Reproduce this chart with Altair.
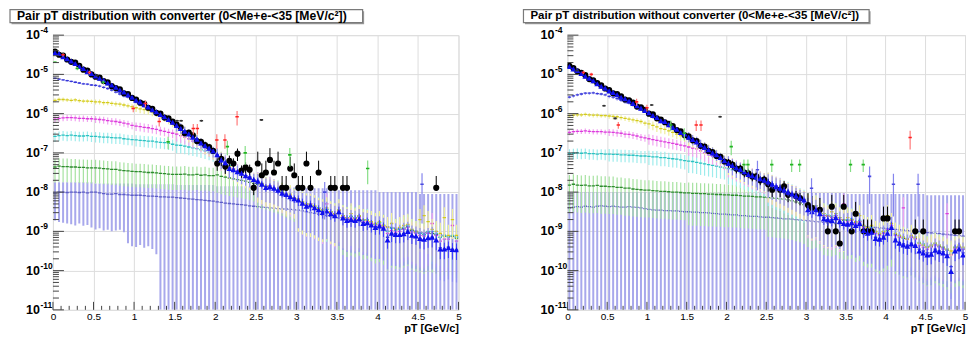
import altair as alt
import pandas as pd

# ---------------- binning / axes ----------------
PT_MIN, PT_MAX = 0.0, 5.0
BIN_W = 0.05
HALF = 0.021
Y_MIN, Y_MAX = 1e-11, 1e-4
X_LABELS = [0, 0.5, 1, 1.5, 2, 2.5, 3, 3.5, 4, 4.5, 5]
DECADES = [-4, -5, -6, -7, -8, -9, -10, -11]

TITLE_L = "Pair pT distribution with converter (0<Me+e-<35 [MeV/c²])"
TITLE_R = "Pair pT distribution without converter (0<Me+e-<35 [MeV/c²])"
AXIS_TITLE = "pT [GeV/c]"

# ================= LEFT PANEL (with converter): log10 of bin contents =================
L_blue = [-4.45,-4.47,-4.55,-4.60,-4.66,-4.72,-4.80,-4.85,-4.93,-4.98,
          -5.04,-5.10,-5.15,-5.22,-5.27,-5.33,-5.40,-5.45,-5.52,-5.58,
          -5.66,-5.70,-5.77,-5.83,-5.90,-5.95,-6.02,-6.08,-6.15,-6.22,
          -6.30,-6.38,-6.45,-6.52,-6.60,-6.65,-6.75,-6.82,-6.88,-6.95,
          -7.05,-7.18,-7.25,-7.40,-7.43,-7.48,-7.52,-7.58,-7.62,-7.68,
          -7.72,-7.80,-7.88,-7.86,-7.90,-7.95,-8.03,-8.06,-8.12,-8.17,
          -8.20,-8.28,-8.36,-8.33,-8.40,-8.45,-8.52,-8.48,-8.55,-8.60,
          -8.50,-8.66,-8.72,-8.70,-8.72,-8.68,-8.80,-8.78,-8.84,-8.90,
          -8.86,-8.92,-9.22,-9.05,-9.08,-9.08,-9.06,-9.00,-9.10,-9.12,
          -9.18,-9.20,-9.16,-9.15,-9.22,-9.45,-9.45,-9.42,-9.46,-9.47]
L_black = [-4.42,-4.50,-4.52,-4.62,-4.68,-4.70,-4.78,-4.88,-4.90,-5.00,
           -5.06,-5.08,-5.17,-5.20,-5.30,-5.35,-5.38,-5.48,-5.50,-5.60,
           -5.64,-5.72,-5.75,-5.85,-5.88,-5.98,-6.00,-6.10,-6.12,-6.20,
           -6.28,-6.35,-6.50,-6.48,-6.55,-6.70,-6.72,-6.80,-6.85,-6.95,
           -7.27,-7.15,-7.35,-7.20,-7.27,-7.02,-7.45,-7.37,-7.43,-7.89,
           -7.27,-7.57,-7.50,-7.18,-7.50,-7.27,-7.89,-7.89,-7.40,-7.57,
           -7.89,-7.89,-7.27,-7.89,None,-7.50,None,None,-7.89,-7.89,
           None,-7.89,-7.89,None,None,None,None,None,None,None,
           None,None,None,None,None,None,None,None,None,None,
           None,None,None,None,-7.89,None,None,None,None,None]
L_blue2 = [-5.10,-5.12,-5.14,-5.16,-5.18,-5.20,-5.22,-5.24,-5.25,-5.27,
           -5.28,-5.30,-5.33,-5.36,-5.40,-5.45,-5.50,-5.55,-5.58,-5.62,
           -5.68,-5.72,-5.78,-5.84,-5.90,-5.96,-6.02,-6.08,-6.15,-6.22,
           -6.30,-6.36,-6.45,-6.52,-6.58,-6.66,-6.74,-6.82,-6.88,-6.96,
           -7.05,-7.16,-7.26,-7.38,-7.44,-7.48,-7.54,-7.58,-7.62,-7.70,
           -7.74,-7.80,-7.86,-7.88,-7.92,-7.96,-8.02,-8.08,-8.12,-8.16,
           -8.22,-8.28,-8.34,-8.35,-8.40,-8.46,-8.50,-8.50,-8.56,-8.60,
           -8.55,-8.65,-8.70,-8.72,-8.74,-8.70,-8.78,-8.80,-8.85,-8.88,
           -8.88,-8.92,-9.15,-9.05,-9.06,-9.10,-9.05,-9.02,-9.12,-9.14,
           -9.18,-9.22,-9.18,-9.15,-9.25,-9.42,-9.45,-9.40,-9.46,-9.48]
L_yellow = [-5.66,-5.64,-5.64,-5.65,-5.66,-5.65,-5.67,-5.68,-5.68,-5.69,
            -5.70,-5.70,-5.72,-5.72,-5.74,-5.75,-5.76,-5.78,-5.80,-5.82,
            -5.85,-5.88,-5.90,-5.92,-5.96,-5.98,-6.04,-6.10,-6.16,-6.24,
            -6.30,-6.40,-6.46,-6.55,-6.62,-6.66,-6.76,-6.85,-6.90,-6.98,
            -7.08,-7.15,-7.28,-7.35,-7.42,-7.50,-7.55,-7.60,-7.66,-7.70,
            -7.75,-7.78,-7.85,-7.90,-7.92,-7.98,-8.00,-8.10,-8.05,-8.15,
            -8.18,-8.25,-8.30,-8.32,-8.35,-8.42,-8.45,-8.40,-8.50,-8.55,
            -8.45,-8.60,-8.65,-8.55,-8.68,-8.60,-8.70,-8.72,-8.75,-8.80,
            -8.75,-8.85,-8.90,-8.80,-8.95,-8.90,-8.85,-8.82,-8.95,-9.00,
            -8.70,-8.60,-8.75,-8.95,-9.00,-9.05,-8.65,-9.10,-8.70,-9.10]
L_magenta = [-6.14,-6.12,-6.11,-6.10,-6.10,-6.11,-6.12,-6.12,-6.13,-6.13,
             -6.14,-6.15,-6.16,-6.18,-6.19,-6.20,-6.22,-6.24,-6.26,-6.30,
             -6.32,-6.33,-6.35,-6.36,-6.38,-6.40,-6.43,-6.45,-6.48,-6.50,
             -6.52,-6.56,-6.60,-6.64,-6.70,-6.74,-6.80,-6.86,-6.92,-6.98,
             -7.06,-7.16,-7.24,-7.36,-7.40,-7.46,-7.52,-7.58,-7.62,-7.68,
             -7.72,-7.80,-7.86,-7.84,-7.90,-7.96,-8.02,-8.05,-8.10,-8.15,
             -8.18,-8.26,-8.32,-8.30,-8.38,-8.42,-8.50,-8.30,-8.52,-8.58,
             -8.48,-8.62,-8.68,-8.66,-8.70,-8.64,-8.76,-8.74,-8.80,-8.86,
             -8.82,-8.88,-9.05,-8.98,-9.02,-9.00,-8.95,-8.90,-9.02,-9.05,
             -9.10,-9.12,-9.05,-8.80,-9.10,-9.25,-9.20,-9.20,-8.85,-9.25]
L_cyan = [-6.58,-6.56,-6.55,-6.56,-6.55,-6.56,-6.57,-6.57,-6.56,-6.58,
          -6.58,-6.59,-6.60,-6.60,-6.61,-6.62,-6.62,-6.64,-6.65,-6.66,
          -6.67,-6.68,-6.69,-6.70,-6.70,-6.72,-6.73,-6.74,-6.76,-6.78,
          -6.80,-6.81,-6.83,-6.85,-6.87,-6.89,-6.92,-6.95,-6.98,-7.02,
          -7.08,-7.15,-7.22,-7.32,-7.40,-7.46,-7.52,-7.58,-7.62,-7.68,
          -7.72,-7.78,-7.86,-7.84,-7.90,-7.94,-8.00,-8.04,-8.10,-8.14,
          -8.18,-8.24,-8.30,-8.30,-8.36,-8.40,-8.46,-8.44,-8.50,-8.55,
          -8.45,-8.60,-8.65,-8.62,-8.66,-8.60,-8.72,-8.70,-8.76,-8.82,
          -8.78,-8.85,-9.00,-8.92,-8.96,-8.95,-8.90,-8.85,-8.95,-9.00,
          -9.05,-9.08,-9.00,-9.00,-9.05,-9.15,-9.10,-9.12,-9.10,-9.15]
L_green = [-7.36,-7.34,-7.35,-7.35,-7.36,-7.36,-7.37,-7.37,-7.38,-7.38,
           -7.38,-7.39,-7.40,-7.41,-7.42,-7.42,-7.44,-7.45,-7.46,-7.47,
           -7.48,-7.48,-7.49,-7.50,-7.50,-7.51,-7.52,-7.53,-7.54,-7.55,
           -7.55,-7.55,-7.54,-7.56,-7.56,-7.55,-7.57,-7.56,-7.58,-7.58,
           -7.56,-7.60,-7.62,-7.64,-7.66,-7.68,-7.70,-7.72,-7.75,-7.78,
           -7.80,-7.82,-7.85,-7.88,-7.92,-7.95,-8.00,-8.05,-8.10,-8.15,
           -8.18,-8.25,-8.30,-8.30,-8.36,-8.40,-8.46,-8.44,-8.50,-8.55,
           -8.48,-8.60,-8.65,-8.62,-8.66,-8.62,-8.72,-8.70,-8.76,-8.82,
           -8.78,-8.85,-9.00,-8.92,-8.96,-8.95,-8.92,-8.88,-8.98,-9.02,
           -9.05,-9.08,-9.02,-9.05,-9.08,-9.15,-9.12,-9.14,-9.12,-9.18]
L_purple = [-8.02,-8.00,-8.00,-8.01,-8.00,-8.00,-8.01,-8.00,-8.02,-8.00,
            -8.00,-8.02,-8.04,-8.05,-8.05,-8.04,-8.06,-8.06,-8.07,-8.08,
            -8.08,-8.08,-8.09,-8.10,-8.10,-8.11,-8.12,-8.12,-8.13,-8.13,
            -8.14,-8.15,-8.16,-8.17,-8.18,-8.19,-8.20,-8.21,-8.22,-8.23,
            -8.25,-8.26,-8.28,-8.29,-8.30,-8.31,-8.32,-8.33,-8.35,-8.36,
            -8.37,-8.38,-8.39,-8.40,-8.41,-8.42,-8.43,-8.43,-8.44,-8.45,
            -8.46,-8.48,-8.50,-8.52,-8.54,-8.56,-8.58,-8.60,-8.62,-8.64,
            -8.65,-8.67,-8.69,-8.71,-8.73,-8.75,-8.77,-8.79,-8.81,-8.83,
            -8.85,-8.86,-8.88,-8.90,-8.92,-8.93,-8.95,-8.97,-8.98,-9.00,
            -9.02,-9.03,-9.05,-9.06,-9.08,-9.09,-9.10,-9.12,-9.13,-9.15]
L_purple_top = [-7.75,-7.78,-7.80,-7.82,-7.85,-7.88,-7.90,-7.95,-8.00,-8.05]   # per 0.5 GeV
L_purple_low = [-8.72,-8.76,-8.78,-8.80,-8.82,-8.85,-8.80,-8.86,-8.84,-8.90,
                -8.95,-8.92,-8.98,-8.96,-9.00,-8.98,-8.96,-9.02,-9.30,-9.38,
                -9.40,-9.35,-9.42,-9.38,-9.45,-9.58]   # further bins reach the floor
L_rel = {"blue": [0.04,0.05,0.07,0.10,0.15,0.22,0.30,0.35,0.40,0.45],
         "black": [0.05,0.06,0.08,0.12,0.35,1.0,1.0,1.0,1.0,1.0],
         "blue2": [0.06,0.08,0.15,0.30,0.45,0.60,0.80,0.85,0.85,0.85],
         "yellow": [0.12,0.14,0.22,0.35,0.50,0.70,0.85,0.85,0.85,0.85],
         "magenta": [0.18,0.20,0.25,0.35,0.50,0.70,0.85,0.85,0.85,0.85],
         "cyan": [0.28,0.30,0.32,0.38,0.50,0.70,0.85,0.85,0.85,0.85],
         "green": [0.60,0.60,0.60,0.60,0.65,0.75,0.85,0.90,0.90,0.90]}
# isolated points (pT, log10 value, relative error)
L_red = [(0.125,-4.50,0.1),(0.45,-4.95,0.1),(0.99,-5.87,0.2),(1.14,-5.74,0.2),(1.31,-6.20,0.25),
         (1.73,-6.38,0.3),(1.78,-6.38,0.3),(2.02,-6.67,0.4),(2.12,-6.67,0.4),(2.27,-6.08,0.4)]
L_gray = [(0.54,-5.03,0.06),(1.53,-6.18,0.06),(1.58,-6.18,0.06),(1.83,-6.18,0.06),(2.57,-6.16,0.06)]
L_grn = [(0.025,-4.69,0.05),(0.30,-4.85,0.1),(0.62,-5.20,0.1),(1.42,-6.72,0.35),(2.15,-6.84,0.4),
         (2.37,-7.00,0.5),(2.92,-7.05,0.5),(3.88,-7.40,0.6)]
L_bl = [(3.35,-8.00,0.8),(4.55,-7.80,0.9)]

# ================= RIGHT PANEL (without converter) =================
R_blue = [-4.80,-4.86,-4.90,-4.98,-5.05,-5.10,-5.16,-5.24,-5.30,-5.35,
          -5.42,-5.46,-5.52,-5.58,-5.62,-5.68,-5.74,-5.80,-5.86,-5.92,
          -5.98,-6.05,-6.10,-6.18,-6.20,-6.28,-6.35,-6.40,-6.48,-6.52,
          -6.60,-6.66,-6.72,-6.80,-6.86,-6.92,-7.00,-7.05,-7.12,-7.20,
          -7.27,-7.32,-7.38,-7.42,-7.48,-7.55,-7.58,-7.62,-7.66,-7.70,
          -7.74,-7.80,-7.86,-7.90,-7.95,-8.00,-8.05,-8.10,-8.15,-8.20,
          -8.45,-8.50,-8.45,-8.55,-8.68,-8.70,-8.72,-8.65,-8.75,-8.80,
          -8.82,-8.78,-8.85,-8.80,-8.98,-9.05,-9.02,-9.18,-9.20,-9.15,
          -9.05,-8.90,-9.22,-9.30,-9.35,-9.38,-9.32,-9.36,-9.50,-9.55,
          -9.60,-9.58,-9.48,-9.52,-9.55,-9.62,-10.02,-9.50,-9.45,-9.60]
R_black = [-4.78,-4.84,-4.92,-4.96,-5.02,-5.12,-5.15,-5.22,-5.28,-5.36,
           -5.40,-5.48,-5.50,-5.56,-5.64,-5.66,-5.72,-5.82,-5.84,-5.90,
           -6.00,-6.02,-6.12,-6.15,-6.22,-6.26,-6.32,-6.42,-6.45,-6.55,
           -6.58,-6.68,-6.70,-6.82,-6.84,-6.95,-6.98,-7.08,-7.10,-7.22,
           -7.25,-7.30,-7.40,-7.40,-7.50,-7.52,-7.60,-7.60,-7.70,-7.68,
           -7.80,-7.94,None,-7.94,-7.85,-8.07,None,-8.10,-8.15,None,
           -8.33,-8.40,None,-8.45,None,-9.00,-8.37,-9.00,-9.31,-8.37,
           None,-9.00,-8.55,None,-9.00,-9.00,-9.00,None,None,-8.67,
           -8.67,None,None,None,None,None,None,-9.00,None,-9.00,
           None,None,None,None,None,None,None,-9.00,-9.00,None]
R_blue2 = [-5.58,-5.55,-5.52,-5.50,-5.48,-5.48,-5.47,-5.49,-5.50,-5.52,
           -5.56,-5.58,-5.62,-5.66,-5.70,-5.72,-5.78,-5.84,-5.88,-5.94,
           -6.00,-6.06,-6.12,-6.18,-6.22,-6.28,-6.34,-6.40,-6.46,-6.52,
           -6.58,-6.66,-6.70,-6.78,-6.85,-6.92,-6.98,-7.05,-7.12,-7.20,
           -7.25,-7.32,-7.38,-7.42,-7.48,-7.55,-7.58,-7.62,-7.66,-7.72,
           -7.75,-7.80,-7.85,-7.90,-7.95,-8.00,-8.05,-8.10,-8.15,-8.20,
           -8.40,-8.48,-8.45,-8.55,-8.65,-8.70,-8.70,-8.65,-8.75,-8.80,
           -8.80,-8.78,-8.85,-8.80,-8.95,-9.00,-9.00,-9.15,-9.18,-9.12,
           -9.05,-8.90,-9.20,-9.28,-9.32,-9.35,-9.30,-9.35,-9.45,-9.50,
           -9.55,-9.55,-9.45,-9.50,-9.52,-9.60,-9.90,-9.50,-9.45,-9.55]
R_yellow = [-6.05,-6.04,-6.03,-6.03,-6.02,-6.03,-6.04,-6.04,-6.05,-6.05,
            -6.06,-6.07,-6.08,-6.10,-6.12,-6.14,-6.16,-6.18,-6.20,-6.24,
            -6.26,-6.30,-6.34,-6.38,-6.40,-6.44,-6.48,-6.52,-6.56,-6.60,
            -6.64,-6.68,-6.74,-6.80,-6.86,-6.92,-6.98,-7.05,-7.12,-7.20,
            -7.26,-7.32,-7.38,-7.44,-7.48,-7.52,-7.58,-7.62,-7.66,-7.70,
            -7.74,-7.80,-7.86,-7.90,-7.95,-8.00,-8.05,-8.10,-8.15,-8.20,
            -8.30,-8.40,-8.35,-8.45,-8.55,-8.60,-8.50,-8.55,-8.65,-8.70,
            -8.65,-8.70,-8.75,-8.60,-8.85,-8.90,-8.85,-9.00,-9.05,-9.00,
            -8.60,-8.80,-9.05,-9.10,-9.15,-9.20,-9.10,-9.15,-9.30,-9.35,
            -9.40,-9.35,-9.30,-9.35,-9.40,-9.45,-9.50,-9.40,-9.35,-9.40]
R_magenta = [-6.48,-6.46,-6.45,-6.45,-6.44,-6.45,-6.46,-6.46,-6.46,-6.47,
             -6.47,-6.48,-6.49,-6.50,-6.52,-6.53,-6.55,-6.57,-6.60,-6.62,
             -6.64,-6.66,-6.68,-6.70,-6.72,-6.74,-6.76,-6.78,-6.80,-6.82,
             -6.85,-6.88,-6.90,-6.95,-7.00,-7.05,-7.08,-7.12,-7.16,-7.22,
             -7.28,-7.32,-7.38,-7.42,-7.48,-7.52,-7.58,-7.62,-7.66,-7.70,
             -7.74,-7.80,-7.84,-7.88,-7.94,-8.00,-8.05,-8.08,-8.15,-8.20,
             -8.35,-8.42,-8.40,-8.50,-8.60,-8.62,-8.65,-8.60,-8.70,-8.30,
             -8.75,-8.72,-8.80,-8.75,-8.90,-8.95,-8.95,-9.05,-9.10,-9.05,
             -8.95,-8.85,-9.10,-9.15,-8.40,-9.20,-9.15,-9.20,-9.35,-9.40,
             -9.45,-9.40,-9.35,-9.40,-9.45,-8.55,-9.60,-9.45,-9.40,-9.45]
R_cyan = [-7.02,-7.01,-7.00,-7.01,-7.00,-7.02,-7.02,-7.03,-7.02,-7.03,
          -7.03,-7.04,-7.04,-7.05,-7.05,-7.06,-7.06,-7.07,-7.08,-7.08,
          -7.09,-7.10,-7.10,-7.12,-7.12,-7.14,-7.15,-7.16,-7.18,-7.20,
          -7.21,-7.22,-7.24,-7.26,-7.28,-7.30,-7.32,-7.34,-7.36,-7.38,
          -7.40,-7.43,-7.46,-7.50,-7.54,-7.58,-7.62,-7.64,-7.68,-7.72,
          -7.75,-7.80,-7.85,-7.88,-7.94,-7.98,-8.04,-8.08,-8.14,-8.18,
          -8.30,-8.38,-8.35,-8.45,-8.55,-8.58,-8.60,-8.55,-8.65,-8.70,
          -8.70,-8.68,-8.75,-8.72,-8.85,-8.90,-8.90,-9.00,-9.05,-9.00,
          -8.95,-8.85,-9.05,-9.10,-9.15,-9.18,-9.12,-9.15,-9.28,-9.32,
          -9.38,-9.35,-9.30,-9.35,-9.40,-9.45,-9.55,-9.40,-9.38,-9.42]
R_green = [-7.82,-7.80,-7.82,-7.83,-7.82,-7.84,-7.84,-7.83,-7.85,-7.85,
           -7.86,-7.86,-7.88,-7.88,-7.90,-7.90,-7.92,-7.93,-7.94,-7.95,
           -7.95,-7.96,-7.97,-7.98,-7.98,-7.99,-8.00,-8.00,-8.01,-8.02,
           -8.02,-8.03,-8.03,-8.04,-8.04,-8.05,-8.05,-8.06,-8.06,-8.07,
           -8.07,-8.08,-8.08,-8.09,-8.10,-8.10,-8.11,-8.12,-8.12,-8.13,
           -8.14,-8.15,-8.16,-8.17,-8.18,-8.20,-8.22,-8.25,-8.28,-8.32,
           -8.40,-8.45,-8.42,-8.50,-8.60,-8.62,-8.64,-8.60,-8.70,-8.72,
           -8.72,-8.70,-8.78,-8.75,-8.88,-8.92,-8.92,-9.02,-9.08,-9.02,
           -8.98,-8.90,-9.08,-9.12,-9.18,-9.20,-9.14,-9.18,-9.30,-9.35,
           -9.40,-9.38,-9.32,-9.38,-9.42,-9.48,-9.58,-9.42,-9.40,-9.45]
R_purple = [-8.40,-8.38,-8.37,-8.38,-8.36,-8.37,-8.38,-8.36,-8.35,-8.36,
            -8.37,-8.36,-8.37,-8.38,-8.38,-8.37,-8.38,-8.39,-8.40,-8.42,
            -8.44,-8.45,-8.46,-8.46,-8.47,-8.47,-8.48,-8.48,-8.49,-8.50,
            -8.50,-8.51,-8.51,-8.52,-8.52,-8.53,-8.54,-8.55,-8.56,-8.56,
            -8.57,-8.58,-8.58,-8.60,-8.60,-8.61,-8.62,-8.62,-8.63,-8.64,
            -8.64,-8.65,-8.66,-8.67,-8.68,-8.68,-8.69,-8.70,-8.71,-8.72,
            -8.73,-8.74,-8.75,-8.76,-8.77,-8.78,-8.79,-8.80,-8.81,-8.82,
            -8.83,-8.84,-8.85,-8.86,-8.87,-8.88,-8.89,-8.90,-8.91,-8.92,
            -8.93,-8.94,-8.95,-8.96,-8.97,-8.98,-8.99,-9.00,-9.01,-9.02,
            -9.03,-9.04,-9.05,-9.06,-9.07,-9.08,-9.09,-9.10,-9.11,-9.12]
R_purple_top = [-8.00,-8.00,-8.00,-8.02,-8.02,-8.00,-8.02,-8.05,-8.05,-8.08]
R_purple_low = []   # every bin reaches the floor
R_rel = {"blue": [0.04,0.05,0.07,0.10,0.15,0.22,0.30,0.35,0.40,0.45],
         "black": [0.05,0.06,0.08,0.12,0.25,0.35,1.0,1.0,1.0,1.0],
         "blue2": [0.08,0.10,0.15,0.30,0.45,0.60,0.80,0.85,0.85,0.85],
         "yellow": [0.12,0.15,0.25,0.35,0.50,0.70,0.85,0.85,0.85,0.85],
         "magenta": [0.15,0.20,0.30,0.40,0.55,0.70,0.85,0.85,0.85,0.85],
         "cyan": [0.30,0.35,0.40,0.50,0.60,0.75,0.85,0.85,0.85,0.85],
         "green": [0.80,0.80,0.80,0.85,0.85,0.90,0.90,0.90,0.90,0.90]}
R_red = [(0.20,-4.95,0.1),(0.30,-5.00,0.1),(0.64,-6.29,0.2),(0.87,-5.70,0.2),(1.00,-5.85,0.2),
         (1.62,-6.29,0.3),(1.68,-6.29,0.3),(4.31,-6.61,0.5)]
R_gray = [(0.12,-4.90,0.06),(0.46,-5.80,0.06),(0.60,-6.12,0.06),(1.06,-5.78,0.06),(1.92,-6.08,0.06)]
R_grn = [(1.30,-6.29,0.3),(1.47,-6.50,0.35),(2.06,-6.84,0.4),(2.22,-7.30,0.35),(2.27,-7.30,0.35),
         (2.57,-7.30,0.35),(2.82,-7.30,0.35),(2.92,-7.30,0.35),(3.56,-7.30,0.35),(3.72,-7.30,0.35)]
R_bl = [(2.39,-7.43,0.7),(3.07,-7.90,0.8),(3.80,-7.60,0.8),(4.10,-7.80,0.85),(4.41,-7.80,0.85)]

# ---------------- styling ----------------
FONT = "Liberation Sans"
SMOOTH_STYLE = {  # name: (error-bar colour, bin-bar colour, bar width)
    "purple": ("#a8a8ec", "#5c5cc6", 2.0),
    "green": ("#a6e2a0", "#2e8b2e", 1.2),
    "cyan": ("#9eecec", "#2cc2c2", 1.2),
    "magenta": ("#f0a4f0", "#dd3bdd", 1.2),
    "yellow": ("#eeee98", "#d4ca1c", 1.2),
    "blue2": ("#9090f2", "#3535d8", 1.2),
}
SPARSE_STYLE = {"red": ("#ff7a7a", "#ff2222"), "grn": ("#86de86", "#22b422"),
                "gray": ("#555555", "#333333"), "bl": ("#8585ee", "#4a4ae0")}

XSC = alt.Scale(domain=[PT_MIN, PT_MAX], nice=False, zero=False)
YSC = alt.Scale(type="log", domain=[Y_MIN, Y_MAX], nice=False)
XAX = alt.Axis(values=X_LABELS, format="~g", title=AXIS_TITLE, grid=True, ticks=False, domain=False,
               labelFlush=False, labelOverlap=False, labelPadding=2, titleAnchor="end",
               titlePadding=1)
YAX = alt.Axis(values=[10.0 ** d for d in DECADES], labels=False, ticks=False, domain=False,
               grid=True, title=None)


def X(f):
    return alt.X(f"{f}:Q", scale=XSC, axis=XAX)


def Y(f):
    return alt.Y(f"{f}:Q", scale=YSC, axis=YAX)


def centre(i):
    return PT_MIN + (i + 0.5) * BIN_W


def hist_df(logs, rel=None, top=None, low=None):
    rows = []
    for i, lv in enumerate(logs):
        if lv is None:
            continue
        c = centre(i)
        v = 10.0 ** lv
        if top is not None:
            hi = 10.0 ** top[i // 10]
            lo = 10.0 ** low[i] if i < len(low) else Y_MIN
        else:
            e = v * rel[i // 10]
            hi = v + e
            lo = v - e if e < v else v
        rows.append({"x": c, "xa": c - HALF, "xb": c + HALF, "v": v,
                     "lo": max(lo, Y_MIN), "hi": min(hi, Y_MAX)})
    return pd.DataFrame(rows)


def sparse_df(pts):
    rows = []
    for x, lv, r in pts:
        v = 10.0 ** lv
        rows.append({"x": x, "xa": x - HALF, "xb": x + HALF, "v": v,
                     "lo": max(v * (1 - r), Y_MIN), "hi": min(v * (1 + r), Y_MAX)})
    return pd.DataFrame(rows)


def cross_layers(df, bar_col, line_col, bar_w=1.2, line_w=1.3):
    vert = alt.Chart(df).mark_rule(color=bar_col, strokeWidth=bar_w, clip=True).encode(
        x=X("x"), y=Y("lo"), y2=alt.Y2("hi:Q"))
    horiz = alt.Chart(df).mark_rule(color=line_col, strokeWidth=line_w, clip=True).encode(
        x=X("xa"), x2=alt.X2("xb:Q"), y=Y("v"))
    return [vert, horiz]


def panel(d, title, width, box_left, box_right, title_size):
    layers = []
    # smooth histograms (drawn back to front)
    for name in ["purple", "green", "cyan", "magenta", "yellow", "blue2"]:
        bc, lc, bw = SMOOTH_STYLE[name]
        if name == "purple":
            df = hist_df(d["purple"], top=d["purple_top"], low=d["purple_low"])
        else:
            df = hist_df(d[name], rel=d["rel"][name])
        layers += cross_layers(df, bc, lc, bar_w=bw)
    # black circles
    bdf = hist_df(d["black"], rel=d["rel"]["black"])
    layers.append(alt.Chart(bdf).mark_rule(color="black", strokeWidth=1, clip=True).encode(
        x=X("x"), y=Y("lo"), y2=alt.Y2("hi:Q")))
    layers.append(alt.Chart(bdf).mark_point(shape="circle", filled=True, size=38, color="black",
                                            opacity=1, clip=True).encode(x=X("x"), y=Y("v")))
    # blue triangles
    tdf = hist_df(d["blue"], rel=d["rel"]["blue"])
    layers.append(alt.Chart(tdf).mark_rule(color="#3a3aff", strokeWidth=1, clip=True).encode(
        x=X("x"), y=Y("lo"), y2=alt.Y2("hi:Q")))
    layers.append(alt.Chart(tdf).mark_point(shape="triangle-up", filled=True, size=34,
                                            color="#1010ee", opacity=1, clip=True).encode(
        x=X("x"), y=Y("v")))
    # isolated points
    for key in ["bl", "grn", "red", "gray"]:
        bc, lc = SPARSE_STYLE[key]
        layers += cross_layers(sparse_df(d[key]), bc, lc, bar_w=1.2, line_w=1.6)

    # inner ticks (ROOT style)
    ytk = pd.DataFrame({"v": [m * 10.0 ** e for e in range(-11, -4) for m in range(2, 10)]})
    ymj = pd.DataFrame({"v": [10.0 ** e for e in DECADES]})
    xtk = pd.DataFrame({"x": [i / 10 for i in range(51) if i % 5 != 0]})
    xmj = pd.DataFrame({"x": X_LABELS})
    layers.append(alt.Chart(ytk).mark_rule(color="#444", strokeWidth=1).encode(
        y=Y("v"), x=alt.value(0), x2=alt.value(6)))
    layers.append(alt.Chart(ymj).mark_rule(color="#444", strokeWidth=1).encode(
        y=Y("v"), x=alt.value(0), x2=alt.value(11)))
    layers.append(alt.Chart(xtk).mark_rule(color="#444", strokeWidth=1).encode(
        x=X("x"), y=alt.value(275), y2=alt.value(271)))
    layers.append(alt.Chart(xmj).mark_rule(color="#444", strokeWidth=1).encode(
        x=X("x"), y=alt.value(275), y2=alt.value(267)))

    # y labels 10^n
    lab = pd.DataFrame({"v": [10.0 ** e for e in DECADES], "e": [str(e) for e in DECADES]})
    layers.append(alt.Chart(lab).mark_text(align="right", baseline="middle", font=FONT,
                                           fontWeight="bold", fontSize=12.5, color="black").encode(
        y=Y("v"), x=alt.value(-13), text=alt.value("10")))
    layers.append(alt.Chart(lab).mark_text(align="left", baseline="middle", font=FONT,
                                           fontWeight="bold", fontSize=8.5, dy=-5, color="black").encode(
        y=Y("v"), x=alt.value(-12.5), text="e:N"))

    # title box (ROOT pave with shadow)
    tdf1 = pd.DataFrame({"t": [title]})
    layers.append(alt.Chart(tdf1).mark_rect(fill="#9a9a9a").encode(
        x=alt.value(box_left + 1.5), x2=alt.value(box_right + 1.5),
        y=alt.value(-24), y2=alt.value(-11)))
    layers.append(alt.Chart(tdf1).mark_rect(fill="white", stroke="#7a7a7a", strokeWidth=1.2).encode(
        x=alt.value(box_left), x2=alt.value(box_right), y=alt.value(-25.5), y2=alt.value(-12.5)))
    layers.append(alt.Chart(tdf1).mark_text(align="left", baseline="middle", font=FONT,
                                            fontWeight="bold", fontSize=title_size, color="black").encode(
        x=alt.value(box_left + 7), y=alt.value(-19), text="t:N"))

    return alt.layer(*layers).properties(width=width, height=275)


LEFT = {"blue": L_blue, "black": L_black, "blue2": L_blue2, "yellow": L_yellow,
        "magenta": L_magenta, "cyan": L_cyan, "green": L_green, "purple": L_purple,
        "purple_top": L_purple_top, "purple_low": L_purple_low, "rel": L_rel,
        "red": L_red, "gray": L_gray, "grn": L_grn, "bl": L_bl}
RIGHT = {"blue": R_blue, "black": R_black, "blue2": R_blue2, "yellow": R_yellow,
         "magenta": R_magenta, "cyan": R_cyan, "green": R_green, "purple": R_purple,
         "purple_top": R_purple_top, "purple_low": R_purple_low, "rel": R_rel,
         "red": R_red, "gray": R_gray, "grn": R_grn, "bl": R_bl}

left = panel(LEFT, TITLE_L, 406, -43, 310, 12.2)
right = panel(RIGHT, TITLE_R, 398, -44, 302, 11.5)

chart = alt.hconcat(left, right, spacing=109, bounds="flush").properties(
    padding={"left": 0, "top": 0, "right": 0, "bottom": 0}
).configure_view(stroke="#555555", strokeWidth=1.3).configure_axis(
    gridColor="#8a8a8a", gridDash=[1, 2], gridOpacity=1, gridWidth=1,
    labelFont=FONT, labelFontWeight="bold", labelFontSize=13, labelColor="black",
    titleFont=FONT, titleFontWeight="bold", titleFontSize=13, titleColor="black",
).configure(background="white")

chart.save("out.html", embed_options={"renderer": "svg", "actions": False})
